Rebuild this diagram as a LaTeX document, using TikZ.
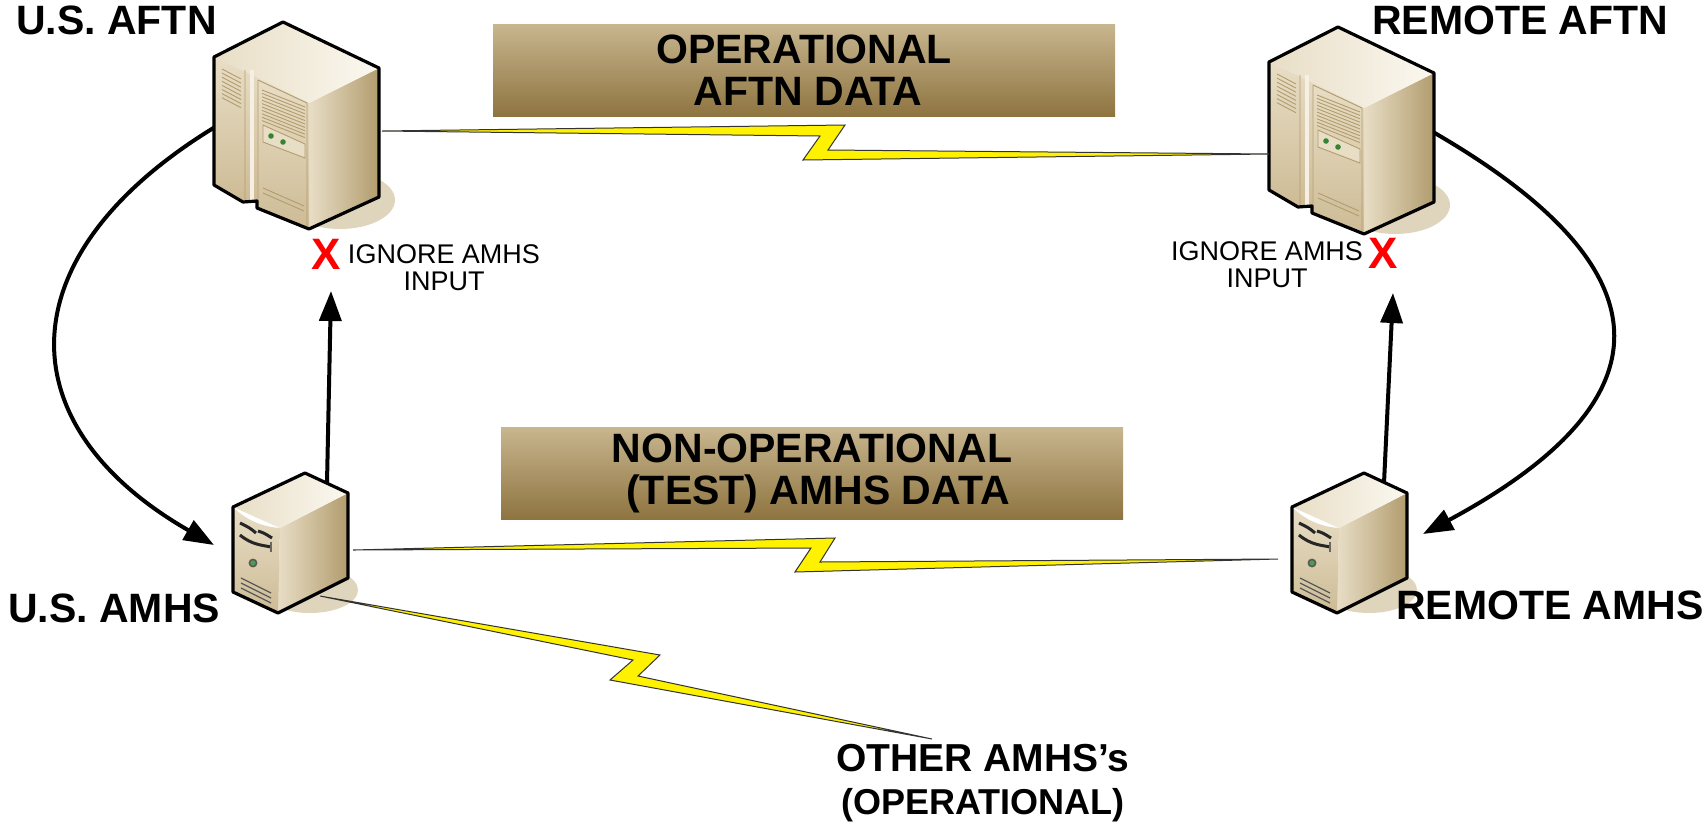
\documentclass[tikz,border=0pt]{standalone}
\usepackage{fontspec}
\setmainfont{Liberation Sans}
\usetikzlibrary{arrows.meta}
\definecolor{tanT}{HTML}{C8B68F}
\definecolor{tanB}{HTML}{8E7440}
\definecolor{shadowc}{HTML}{DED5BC}
\definecolor{sA}{HTML}{FBF8F0}
\definecolor{sB}{HTML}{E8DEC6}
\definecolor{sC}{HTML}{B29C6E}
\definecolor{sD}{HTML}{CDBB95}
\tikzset{
 x=1pt,y=-1pt,
 lbl/.style={font=\bfseries\fontsize{41}{43}\selectfont,align=center,inner sep=0pt,text=black},
 smalllbl/.style={font=\fontsize{27}{27}\selectfont,align=center,inner sep=0pt,text=black},
 banner/.style={rectangle,inner sep=0pt,minimum width=622pt,minimum height=92pt,top color=tanT,bottom color=tanB,font=\bfseries\fontsize{41}{42}\selectfont,align=center,text=black},
 boltlink/.style={draw=black!80,line width=1pt,fill=yellow,line join=miter},
 arr/.style={line width=4pt,-{Triangle[length=30pt,width=22pt]}},
 xmark/.style={font=\bfseries\fontsize{44}{44}\selectfont,text=red,inner sep=0pt},
 detail/.style={draw=sC,line width=.9pt},
 dark/.style={draw=black!65,line width=1.2pt}
}
\newcommand{\bigsrv}[2]{\begin{scope}[shift={(#1,#2)}]
 \fill[shadowc] (340,200) ellipse[x radius=55,y radius=29];
 \shade[left color=sB,right color=sC] (309,103)--(379,68)--(379,197)--(309,229)--cycle;
 \shade[shading=axis,shading angle=250,left color=sB,right color=sA] (214,57)--(283,22)--(379,68)--(309,103)--cycle;
 \shade[top color=sB,bottom color=sD] (214,57)--(258,78)--(258,201)--(243,202)--(214,185)--cycle;
 \shade[top color=sB,bottom color=sD] (258,78)--(309,103)--(309,229)--(257,208)--cycle;
 \fill[sA!70!sB] (250,70)--(254,70)--(254,200)--(250,200)--cycle;
 \draw[detail] (258,80)--(307,103)--(307,226) (258,80)--(258,201) (245,70)--(245,201);
 \foreach \i in {0,...,7}{\draw[detail] (222,69+\i*4.1)--(241,79+\i*4.1);}
 \foreach \i in {0,...,9}{\draw[detail] (262,90+\i*3.4)--(305,107+\i*3.4);}
 \filldraw[detail,fill=sB] (263,125)--(305,144)--(305,158)--(263,142)--cycle;
 \fill[black!60!green!80!white] (271,136) circle[radius=2.8] (283,142) circle[radius=2.8];
 \draw[detail] (263,188)--(304,206) (263,193)--(304,211);
 \draw[line width=3.2pt,line join=round] (214,57)--(283,22)--(379,68)--(379,197)--(309,229)--(257,208)--(257,201)--(243,202)--(214,185)--cycle;
 \end{scope}}
\newcommand{\smallsrv}[2]{\begin{scope}[shift={(#1,#2)}]
 \fill[shadowc] (310,590) ellipse[x radius=48,y radius=23];
 \shade[left color=sB,right color=sC] (280,528)--(348,493)--(348,578)--(278,613)--cycle;
 \shade[shading=axis,shading angle=250,left color=sB,right color=sA] (233,507)--(305,473)--(348,493)--(280,528)--cycle;
 \shade[top color=sB,bottom color=sD] (233,507) .. controls (248,522) and (265,527) .. (280,528)--(278,613)--(233,592)--cycle;
 \draw[black!85,line width=3pt] (240,523) .. controls (250,528) .. (256,533) (258,531) .. controls (264,533) .. (272,538);
 \draw[black!85,line width=3pt] (240,535) .. controls (252,545) and (262,545) .. (271,547);
 \draw[black!60,line width=2pt] (271,542)--(271,552);
 \filldraw[draw=black!65,fill=green!45!black!70!white,line width=1.6pt] (253,563) circle[radius=3.6];
 \foreach \i in {0,1,2}{\draw[dark] (241,578+\i*5)--(271,593+\i*5);}
 \draw[line width=3.2pt,line join=round] (233,507)--(305,473)--(348,493)--(348,578)--(278,613)--(233,592)--cycle;
 \end{scope}}
\begin{document}
\begin{tikzpicture}
\useasboundingbox (0,0) rectangle (1703,823);
% anchors of the links
\coordinate (aftnL) at (215,127);
\coordinate (aftnB) at (331,291);
\coordinate (aftnR) at (382,131);
\coordinate (amhsTL) at (214,545);
\coordinate (amhsT) at (327,483);
\coordinate (amhsR) at (353,550);
\coordinate (amhsB) at (320,596);
\coordinate (raftnL) at (1269,154);
\coordinate (raftnR) at (1433,132);
\coordinate (raftnB) at (1393,293);
\coordinate (ramhsL) at (1278,559);
\coordinate (ramhsT) at (1384,483);
\coordinate (ramhsTR) at (1423,534);
\coordinate (otherT) at (932,739);
% arrows behind the servers
\draw[arr] (amhsT) -- (aftnB);
\draw[arr] (ramhsT) -- (raftnB);
\draw[arr] (aftnL) .. controls (5,255) and (5,425) .. (amhsTL);
\draw[arr] (raftnR) .. controls (1672,270) and (1672,400) .. (ramhsTR);
% servers
\bigsrv{0}{0}
\bigsrv{1055}{5}
\smallsrv{0}{0}
\smallsrv{1059}{0}
% banners
\node[banner] (b1) at (804,70) {OPERATIONAL\\\hspace*{8pt}AFTN DATA};
\node[banner] (b2) at (812,473) {NON-OPERATIONAL\\\hspace*{12pt}(TEST) AMHS DATA};
% lightning links
\draw[boltlink] (aftnR)--(845,125)--(828,150)--(raftnL)--(803,160)--(820,136)--cycle;
\draw[boltlink] (amhsR)--(835,538)--(820,562)--(ramhsL)--(795,572)--(811,548)--cycle;
\draw[boltlink] (amhsB)--(660,655)--(638,676)--(otherT)--(610,680)--(633,660)--cycle;
% labels
\node[lbl,anchor=west] (l1) at (16,20) {U.S. AFTN};
\node[lbl,anchor=west] (l2) at (1372,20) {REMOTE AFTN};
\node[lbl,anchor=west] (l3) at (8,608) {U.S. AMHS};
\node[lbl,anchor=west] (l4) at (1396,605) {REMOTE AMHS};
\node[lbl,font=\bfseries\fontsize{39}{43}\selectfont] (l5) at (983,783) {OTHER AMHS’s\\\fontsize{36}{43}\selectfont (OPERATIONAL)};
\node[xmark] (x1) at (326,254) {X};
\node[xmark] (x2) at (1383,253) {X};
\node[smalllbl] (t1) at (444,268) {IGNORE AMHS\\INPUT};
\node[smalllbl] (t2) at (1267,265) {IGNORE AMHS\\INPUT};
\end{tikzpicture}
\end{document}
